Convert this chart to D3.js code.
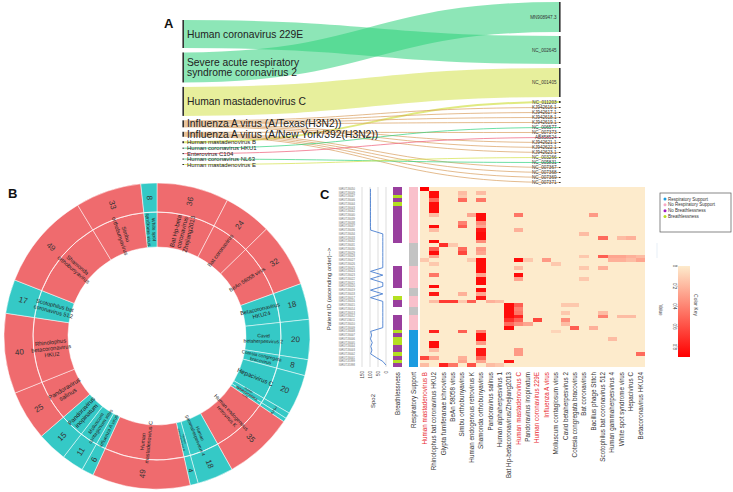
<!DOCTYPE html>
<html>
<head>
<meta charset="utf-8">
<script src="https://cdn.jsdelivr.net/npm/d3@7"></script>
<style>
  body { margin: 0; background: #fff; }
  svg { display: block; font-family: "Liberation Sans", Arial, sans-serif; }
</style>
</head>
<body>
<svg id="fig" width="733" height="492"></svg>
<script>
// ---------- data: panel A (virus -> reference genome flows) ----------
const sankeySources = [
  "Human coronavirus 229E",
  "Severe acute respiratory syndrome coronavirus 2",
  "Human mastadenovirus C",
  "Influenza A virus (A/Texas(H3N2))",
  "Influenza A virus (A/New York/392(H3N2))",
  "Human mastadenovirus B",
  "Human coronavirus HKU1",
  "Enterovirus C104",
  "Human coronavirus NL63",
  "Human mastadenovirus E"
];
const sankeyFamily = ["corona", "corona", "adeno", "flu", "flu", "adeno", "corona", "entero", "corona", "adeno"];
const sankeyTargets = [
  "MN908947.3", "NC_002645", "NC_001405", "NC_011203", "KJ942616.1", "KJ942617.1",
  "KJ942618.1", "KJ942619.1", "NC_006577", "NC_007373", "AB858524", "KJ942621.1",
  "KJ942622.1", "KJ942623.1", "NC_003266", "NC_005831", "NC_007367", "NC_007368",
  "NC_007369", "NC_007371"
];
// [source index, target index, value]
const sankeyLinks = [
  [1, 0, 30], [0, 1, 28], [2, 2, 29], [5, 3, 2],
  [3, 4, 1], [3, 5, 1], [3, 6, 1], [3, 7, 1], [6, 8, 1], [4, 9, 1],
  [7, 10, 1], [3, 11, 1], [3, 12, 1], [3, 13, 1], [9, 14, 1], [8, 15, 1],
  [4, 16, 1], [4, 17, 1], [4, 18, 1], [4, 19, 1]
];

// ---------- data: panel B (sunburst) ----------
const ringNames = [
  "Bat Hp-beta coronavirus Zhejiang2013", "Bat coronavirus", "BeAn 58058 virus",
  "Betacoronavirus HKU24", "Cavid betaherpesvirus 2", "Cotesia congregata bracovirus",
  "Hepacivirus C", "Human alphaherpesvirus 1", "Human coronavirus 229E",
  "Human endogenous retrovirus K", "Human gammaherpesvirus 4", "Human mastadenovirus B",
  "Human mastadenovirus C", "Influenza A virus", "Molluscum contagiosum virus",
  "Pandoravirus inopinatum", "Pandoravirus salinus", "Rhinolophus betacoronavirus HKU2",
  "Scotophilus bat coronavirus 512", "Shamonda orthobunyavirus", "Simbu orthobunyavirus",
  "White spot syndrome virus"
];
const ringCounts = [36, 24, 32, 18, 20, 8, 20, 3, 2, 35, 18, 4, 49, 6, 11, 15, 25, 40, 17, 49, 33, 8];

// ---------- data: panel C (heatmap) ----------
const heatColumns = [
  "Human mastadenovirus B", "Rhinolophus bat coronavirus HKU2", "Glypta fumiferanae ichnovirus",
  "BeAn 58058 virus", "Simbu orthobunyavirus", "Human endogenous retrovirus K",
  "Shamonda orthobunyavirus", "Pandoravirus salinus", "Human alphaherpesvirus 1",
  "Bat Hp-betacoronavirus/Zhejiang2013", "Human mastadenovirus C", "Pandoravirus inopinatum",
  "Human coronavirus 229E", "Influenza A virus", "Molluscum contagiosum virus",
  "Cavid betaherpesvirus 2", "Cotesia congregata bracovirus", "Bat coronavirus",
  "Bacillus phage Stitch", "Scotophilus bat coronavirus 512", "Human gammaherpesvirus 4",
  "White spot syndrome virus", "Hepacivirus C", "Betacoronavirus HKU24"
];
const redColumns = ["Human mastadenovirus B", "Human mastadenovirus C", "Human coronavirus 229E", "Influenza A virus"];

const patientIds = ("IGR07136050 IGR07136049 IGR07136047 IGR07136046 IGR07136044 IGR07136043 " +
  "IGR07136042 IGR07136040 IGR07136039 IGR07136038 IGR07136037 IGR07136036 IGR07136034 " +
  "IGR07136033 IGR07136032 IGR07136031 IGR07136030 IGR07136029 IGR07136028 IGR07136027 " +
  "IGR07136026 IGR07136025 IGR07136024 IGR07136023 IGR07136022 IGR07136021 IGR07136020 " +
  "IGR07136019 IGR07136018 IGR07136017 IGR07136016 IGR07136015 IGR07136014 IGR07136013 " +
  "IGR07136012 IGR07136011 IGR07136010 IGR07136009 IGR07136008 IGR07136007 IGR07136006 " +
  "IGR07136005 IGR07136004 IGR07136003 IGR07136002 IGR07136001 IGR07135999 IGR07135998").split(" ");

// P = no breathlessness, L = breathlessness, "" = missing
const breathless = ["P","P","L","P","L","P","P","P","P","P","P","P","P","P","P","","","","","","",
  "P","P","P","P","P","P","","","L","P","P","","","P","P","P","P","L","P","L","L","P","P","L","P","L","P"];
// N = no respiratory support, S = respiratory support, M = missing
const respSupport = ["N","N","N","N","N","N","N","N","N","N","N","N","N","N","N","M","M","M","M","M","M",
  "N","N","N","N","N","N","M","M","N","N","N","M","M","N","N","N","N","S","S","S","S","S","S","S","S","S","S"];
const spo2 = [97,97,97,97,97,97,97,97,97,97,97,96,20,20,20,20,20,20,20,20,20,
  20,97,20,97,20,20,97,20,97,20,20,20,20,20,20,20,20,96,90,97,86,95,88,96,60,20,0];

// [row, column, value] ; everything else is 0
const heatHits = [
  [0,0,1],[19,0,0.15],[45,0,0.7],[47,0,0.2],
  [1,1,0.95],[2,1,0.95],[3,1,0.55],[4,1,0.95],[5,1,0.95],[6,1,0.95],[7,1,0.2],[10,1,0.95],[11,1,0.2],
  [14,1,0.95],[16,1,0.6],[17,1,0.95],[18,1,0.3],[20,1,0.15],[23,1,0.5],[26,1,0.95],[28,1,0.9],
  [30,1,0.2],[38,1,0.85],[41,1,0.95],[42,1,0.95],[43,1,0.2],[45,1,0.3],
  [15,2,0.8],[30,2,0.75],[47,2,0.85],
  [15,3,0.15],[30,3,0.75],[47,3,0.5],
  [1,4,0.2],[2,4,0.15],[3,4,0.55],[9,4,0.45],[10,4,0.6],[16,4,0.55],[17,4,0.7],[28,4,0.25],
  [30,4,0.15],[38,4,0.6],[45,4,0.25],[46,4,0.3],
  [7,5,0.3],[19,5,0.15],[30,5,0.6],[47,5,0.65],
  [1,6,0.2],[3,6,0.5],[7,6,0.95],[8,6,0.95],[9,6,0.4],[10,6,0.3],[11,6,0.9],[12,6,0.95],[13,6,0.95],
  [14,6,0.4],[16,6,0.35],[17,6,0.3],[19,6,0.95],[20,6,0.95],[21,6,0.95],[22,6,0.95],[23,6,0.3],
  [24,6,0.95],[25,6,0.95],[27,6,0.95],[28,6,0.3],[29,6,0.9],[38,6,0.45],[39,6,0.95],[40,6,0.95],
  [41,6,0.35],[43,6,0.9],[44,6,0.9],[45,6,0.55],[46,6,0.3],
  [30,7,0.25],[47,7,0.2],
  [30,8,0.2],[47,8,0.15],
  [31,9,0.95],[32,9,0.95],[33,9,0.95],[34,9,0.95],[35,9,0.8],[36,9,0.55],[37,9,0.95],[46,9,0.9],
  [7,10,0.5],[11,10,0.25],[19,10,0.95],[21,10,0.2],[23,10,0.95],[24,10,0.3],[31,10,0.6],[32,10,0.45],
  [33,10,0.5],[34,10,0.85],[35,10,0.6],[36,10,0.4],[43,10,0.35],[44,10,0.35],
  [19,11,0.15],[36,11,0.3],
  [35,12,0.7],
  [19,13,0.35],
  [20,14,0.15],[38,14,0.1],
  [31,15,0.15],[33,15,0.15],[35,15,0.4],[36,15,0.2],
  [31,16,0.15],[37,16,0.6],
  [12,17,0.2],[18,17,0.15],[21,17,0.15],[24,17,0.15],
  [7,18,0.35],[37,18,0.25],
  [13,19,0.55],[18,19,0.6],[21,19,0.25],[33,19,0.2],[34,19,0.45],
  [18,20,0.3],[19,20,0.25],[40,20,0.2],
  [13,21,0.2],[18,21,0.3],[19,21,0.25],[34,21,0.2],
  [13,22,0.25],[18,22,0.25],[19,22,0.2],[34,22,0.2],
  [18,23,0.2],[19,23,0.3],[44,23,0.55]
];

const colorKeyTicks = [0, 0.2, 0.4, 0.6, 0.8];
const spo2Ticks = [150, 100, 50, 0];

const svg = d3.select("#fig");

// panel letters
[["A", 164, 28], ["B", 8, 198], ["C", 320, 199]].forEach(([t, x, y]) => {
  svg.append("text").attr("x", x).attr("y", y).attr("font-size", 13)
    .attr("font-weight", "bold").attr("fill", "#111").text(t);
});

// ================= Panel A =================
const familyColor = { corona: "#2fd27c", adeno: "#d3e14a", flu: "#d99e5e", entero: "#ee5d78" };
const flow = d3.scaleLinear().domain([0, 1]).range([0, 1]);
const leftX = 184, rightX = 559;

function stackColumn(values, y0, y1) {
  const total = d3.sum(values, flow);
  const pad = (y1 - y0 - total) / (values.length - 1);
  let y = y0;
  return values.map(v => {
    const n = { y0: y, y1: y + flow(v), off: 0 };
    y = n.y1 + pad;
    return n;
  });
}
const srcVal = sankeySources.map((_, i) => d3.sum(sankeyLinks.filter(l => l[0] === i), l => l[2]));
const tgtVal = sankeyTargets.map((_, i) => d3.sum(sankeyLinks.filter(l => l[1] === i), l => l[2]));
const srcNodes = stackColumn(srcVal, 20, 165);
const tgtNodes = stackColumn(tgtVal, 2, 183);

const linkGeom = d3.sort(sankeyLinks, l => l[0], l => l[1]).map(l => {
  const s = srcNodes[l[0]], t = tgtNodes[l[1]], w = flow(l[2]);
  const sy = s.y0 + s.off + w / 2; s.off += w;
  const ty = t.y0 + t.off + w / 2; t.off += w;
  return { source: [leftX, sy], target: [rightX, ty], w, fam: sankeyFamily[l[0]] };
});

const linkPath = d3.linkHorizontal();
const gA = svg.append("g");
gA.append("g").attr("fill", "none")
  .selectAll("path").data(d3.sort(linkGeom, d => -d.w)).join("path")
  .attr("d", linkPath)
  .attr("stroke", d => familyColor[d.fam])
  .attr("stroke-opacity", d => d.w > 5 ? 0.55 : 0.7)
  .attr("stroke-width", d => Math.max(d.w, 0.9));

gA.append("g").selectAll("rect").data(srcNodes).join("rect")
  .attr("x", leftX - 1.6).attr("width", 1.6)
  .attr("y", d => d.y0).attr("height", d => Math.max(d.y1 - d.y0, 0.8))
  .attr("fill", "#333");
gA.append("g").selectAll("rect").data(tgtNodes).join("rect")
  .attr("x", rightX).attr("width", 1.6)
  .attr("y", d => d.y0).attr("height", d => Math.max(d.y1 - d.y0, 0.8))
  .attr("fill", "#333");

gA.append("g").selectAll("text").data(sankeySources).join("text")
  .attr("x", leftX + 3)
  .attr("font-size", (d, i) => srcVal[i] >= 5 ? 10.3 : 6)
  .attr("fill", "#222")
  .each(function (d, i) {
    const n = srcNodes[i], cy = (n.y0 + n.y1) / 2;
    const lines = d.length > 42 ? ["Severe acute respiratory", "syndrome coronavirus 2"] : [d];
    const fs = srcVal[i] >= 5 ? 10.3 : 6;
    d3.select(this).selectAll("tspan").data(lines).join("tspan")
      .attr("x", leftX + 3)
      .attr("y", (t, k) => cy + (k - (lines.length - 1) / 2) * fs * 0.95 + fs * 0.35)
      .text(t => t);
  });

gA.append("g").selectAll("text").data(sankeyTargets).join("text")
  .attr("x", rightX - 2.5)
  .attr("y", (d, i) => (tgtNodes[i].y0 + tgtNodes[i].y1) / 2 + 1.6)
  .attr("text-anchor", "end").attr("font-size", 4.6).attr("fill", "#333")
  .text(d => d);

// ================= Panel B =================
const cx = 157, cy = 336, rIn = 89, rMid = 124, rOut = 153;
const ringData = ringNames.map((name, i) => ({ name, count: ringCounts[i] }));
const pieArcs = d3.pie().value(d => d.count).sort(null)(ringData);
const ringColor = d => d.data.count > 20 ? "#ef6b6e" : "#35c9c6";
const arcInner = d3.arc().innerRadius(rIn).outerRadius(rMid);
const arcOuter = d3.arc().innerRadius(rMid).outerRadius(rOut);

const gB = svg.append("g");
const gRing = gB.append("g").attr("transform", `translate(${cx},${cy})`);
gRing.selectAll("path.inner").data(pieArcs).join("path").attr("class", "inner")
  .attr("d", arcInner).attr("fill", ringColor).attr("stroke", "#fff").attr("stroke-width", 0.5);
gRing.selectAll("path.outer").data(pieArcs).join("path").attr("class", "outer")
  .attr("d", arcOuter).attr("fill", ringColor).attr("stroke", "#fff").attr("stroke-width", 0.5);
gRing.append("circle").attr("r", rMid).attr("fill", "none").attr("stroke", "#fff").attr("stroke-width", 0.6);

function wrapWords(name, max) {
  const lines = [];
  let cur = "";
  name.split(" ").forEach(w => {
    const t = cur ? cur + " " + w : w;
    if (t.length > max && cur) { lines.push(cur); cur = w; } else cur = t;
  });
  lines.push(cur);
  return lines;
}
function radialTransform(d, r) {
  const a = (d.startAngle + d.endAngle) / 2 * 180 / Math.PI;
  return `translate(${cx},${cy}) rotate(${a - 90}) translate(${r},0) rotate(${a < 180 ? 0 : 180})`;
}

gB.append("g").selectAll("text").data(pieArcs).join("text")
  .attr("transform", d => radialTransform(d, (rIn + rMid) / 2))
  .attr("text-anchor", "middle").attr("fill", "#222")
  .each(function (d) {
    const lines = wrapWords(d.data.name, 18);
    const spanPx = (d.endAngle - d.startAngle) * (rIn + rMid) / 2;
    const longest = d3.max(lines, l => l.length);
    const fs = Math.max(2.9, Math.min(6.2, spanPx * 0.95 / (lines.length * 1.1), 44 / (0.52 * longest)));
    d3.select(this).attr("font-size", fs)
      .selectAll("tspan").data(lines).join("tspan")
      .attr("x", 0)
      .attr("y", (t, k) => (k - (lines.length - 1) / 2) * fs * 1.1 + fs * 0.35)
      .text(t => t);
  });

gB.append("g").selectAll("text").data(pieArcs).join("text")
  .attr("transform", d => radialTransform(d, (rMid + rOut) / 2))
  .attr("text-anchor", "middle").attr("dy", "0.35em").attr("fill", "#333")
  .attr("font-size", d => Math.max(5.2, Math.min(8, (d.endAngle - d.startAngle) * 138 * 0.9)))
  .text(d => d.data.count);

// ================= Panel C =================
const gC = svg.append("g");
const rows = d3.range(patientIds.length);
const yRow = d3.scaleBand().domain(rows).range([187, 367]);
const xCol = d3.scaleBand().domain(d3.range(heatColumns.length)).range([420, 645]);
const heatColor = d3.scaleLinear().domain([0, 1]).range(["#fdebcc", "#ff0000"]);

const heatMatrix = rows.map(() => heatColumns.map(() => 0));
heatHits.forEach(([r, c, v]) => { heatMatrix[r][c] = v; });
const heatCells = [];
heatMatrix.forEach((row, r) => row.forEach((v, c) => heatCells.push({ r, c, v })));

gC.append("g").attr("shape-rendering", "crispEdges")
  .selectAll("rect").data(heatCells).join("rect")
  .attr("x", d => xCol(d.c)).attr("y", d => yRow(d.r))
  .attr("width", xCol.bandwidth() + 0.3).attr("height", yRow.bandwidth() + 0.3)
  .attr("fill", d => heatColor(d.v));

// column labels
gC.append("g").selectAll("text").data(heatColumns).join("text")
  .attr("transform", (d, i) => `translate(${xCol(i) + xCol.bandwidth() / 2},372) rotate(-90)`)
  .attr("text-anchor", "end").attr("dy", "0.35em").attr("font-size", 6.3)
  .attr("fill", d => redColumns.includes(d) ? "#e8262b" : "#333")
  .text(d => d);

// patient IDs
gC.append("g").selectAll("text").data(patientIds).join("text")
  .attr("x", 355).attr("y", (d, i) => yRow(i) + yRow.bandwidth() / 2)
  .attr("dy", "0.35em").attr("text-anchor", "end").attr("font-size", 2.6).attr("fill", "#666")
  .text(d => d);
gC.append("text")
  .attr("transform", "translate(331,289) rotate(-90)")
  .attr("text-anchor", "middle").attr("font-size", 6).attr("fill", "#333")
  .text("Patient ID (ascending order)-->");

// SpO2 track
const xSpo2 = d3.scaleLinear().domain([150, 0]).range([362, 386]);
gC.append("g").selectAll("line").data(spo2Ticks).join("line")
  .attr("x1", d => xSpo2(d)).attr("x2", d => xSpo2(d))
  .attr("y1", 187).attr("y2", 367).attr("stroke", "#c8c8c8").attr("stroke-width", 0.6);
gC.append("g").selectAll("text").data(spo2Ticks).join("text")
  .attr("transform", d => `translate(${xSpo2(d)},371) rotate(-90)`)
  .attr("text-anchor", "end").attr("dy", "0.35em").attr("font-size", 4.5).attr("fill", "#444")
  .text(d => d);
gC.append("path").datum(spo2)
  .attr("fill", "none").attr("stroke", "#4a7fd0").attr("stroke-width", 0.9)
  .attr("d", d3.line().x(d => xSpo2(d)).y((d, i) => yRow(i) + yRow.bandwidth() / 2));
gC.append("text").attr("transform", "translate(373,401) rotate(-90)")
  .attr("text-anchor", "middle").attr("dy", "0.35em").attr("font-size", 6).attr("fill", "#333").text("Spo2");

// annotation columns
const breathColor = { P: "#993f9e", L: "#b4e021", "": "#ffffff" };
const respColor = { N: "#f9c0cb", M: "#c3c3c3", S: "#1b9be0" };
const xBreath = d3.scaleBand().domain(["Breathlessness", "Respiratory Support"]).range([393, 418]).paddingInner(0.45);
gC.append("g").attr("shape-rendering", "crispEdges")
  .selectAll("rect").data(breathless).join("rect")
  .attr("x", xBreath("Breathlessness")).attr("width", xBreath.bandwidth())
  .attr("y", (d, i) => yRow(i)).attr("height", yRow.bandwidth() + 0.3)
  .attr("fill", d => breathColor[d]);
gC.append("g").attr("shape-rendering", "crispEdges")
  .selectAll("rect").data(respSupport).join("rect")
  .attr("x", xBreath("Respiratory Support")).attr("width", xBreath.bandwidth())
  .attr("y", (d, i) => yRow(i)).attr("height", yRow.bandwidth() + 0.3)
  .attr("fill", d => respColor[d]);
gC.append("g").selectAll("text").data(xBreath.domain()).join("text")
  .attr("transform", d => `translate(${xBreath(d) + xBreath.bandwidth() / 2},372) rotate(-90)`)
  .attr("text-anchor", "end").attr("dy", "0.35em").attr("font-size", 6.3).attr("fill", "#333")
  .text(d => d);

// legend
const legendItems = [
  ["Respiratory Support", "#1b9be0"], ["No Respiratory Support", "#f9a8c4"],
  ["No Breathlessness", "#a020c0"], ["Breathlessness", "#b4e021"]
];
const gL = gC.append("g");
gL.append("rect").attr("x", 660).attr("y", 193).attr("width", 71).attr("height", 39)
  .attr("fill", "#fff").attr("stroke", "#555").attr("stroke-width", 0.7);
const yLeg = d3.scalePoint().domain(legendItems.map(d => d[0])).range([199, 216.5]);
gL.selectAll("circle").data(legendItems).join("circle")
  .attr("cx", 665).attr("cy", d => yLeg(d[0])).attr("r", 1.5).attr("fill", d => d[1]);
gL.selectAll("text").data(legendItems).join("text")
  .attr("x", 668).attr("y", d => yLeg(d[0])).attr("dy", "0.35em")
  .attr("font-size", 4.5).attr("fill", "#333").text(d => d[0]);

// colour key
const yKey = d3.scaleLinear().domain([0, 0.9]).range([266, 357]);
const grad = svg.append("defs").append("linearGradient").attr("id", "keygrad")
  .attr("x1", 0).attr("x2", 0).attr("y1", 0).attr("y2", 1);
grad.selectAll("stop").data([0, 0.5, 1]).join("stop")
  .attr("offset", d => d).attr("stop-color", d => heatColor(d));
gC.append("rect").attr("x", 678).attr("y", yKey(0)).attr("width", 12)
  .attr("height", yKey(0.9) - yKey(0)).attr("fill", "url(#keygrad)");
gC.append("g").selectAll("line").data(colorKeyTicks).join("line")
  .attr("x1", 675.5).attr("x2", 678).attr("y1", d => yKey(d)).attr("y2", d => yKey(d))
  .attr("stroke", "#666").attr("stroke-width", 0.4);
gC.append("g").selectAll("text").data(colorKeyTicks).join("text")
  .attr("transform", d => `translate(673,${yKey(d)}) rotate(90)`)
  .attr("text-anchor", "middle").attr("font-size", 4.5).attr("fill", "#444")
  .text(d => d);
gC.append("text").attr("transform", "translate(659,310) rotate(90)")
  .attr("text-anchor", "middle").attr("font-size", 4.5).attr("fill", "#444").text("Value");
gC.append("text").attr("transform", "translate(694,305) rotate(90)")
  .attr("text-anchor", "middle").attr("font-size", 5).attr("fill", "#444").text("Color Key");
gC.append("line").attr("x1", 657).attr("x2", 657).attr("y1", 243).attr("y2", 258)
  .attr("stroke", "#d6e4f2").attr("stroke-width", 0.6);
</script>
</body>
</html>
